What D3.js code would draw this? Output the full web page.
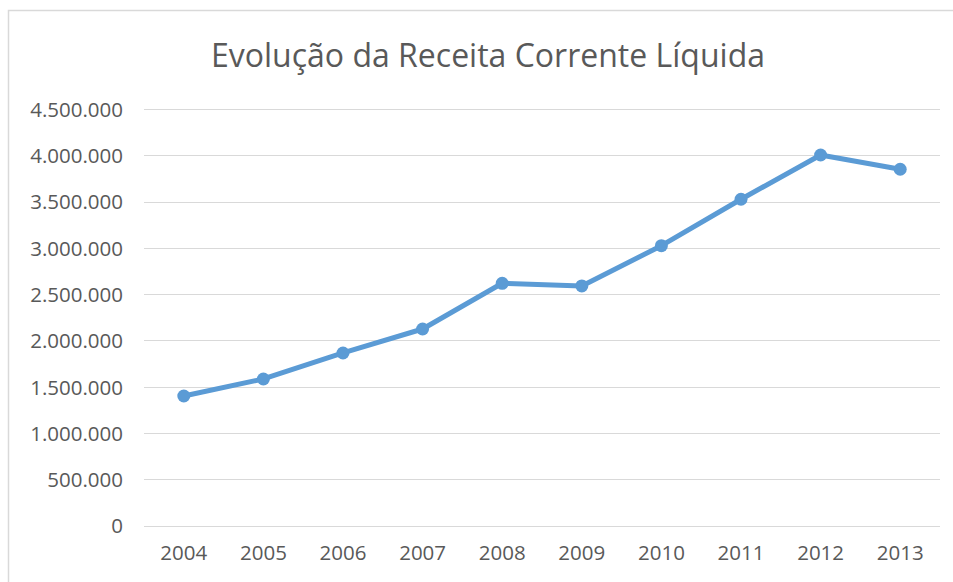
<!DOCTYPE html>
<html><head><meta charset="utf-8">
<script src="https://cdn.jsdelivr.net/npm/d3@7"></script>
<style>html,body{margin:0;padding:0;background:#fff;}svg{display:block;}</style>
</head><body>
<svg id="chart" width="953" height="582"></svg>
<script>
const title = "Evolução da Receita Corrente Líquida";
const years = ["2004","2005","2006","2007","2008","2009","2010","2011","2012","2013"];
const values = [1399000, 1583000, 1864000, 2123000, 2617000, 2588000, 3023000, 3525000, 4003000, 3849000];
const yTicks = [0, 500000, 1000000, 1500000, 2000000, 2500000, 3000000, 3500000, 4000000, 4500000];

const svg = d3.select("#chart");
const font = "'Open Sans', sans-serif";
const textColor = "#595959";
const gridColor = "#d9d9d9";
const lineColor = "#5b9bd5";

// chart border
svg.append("rect").attr("x", 8.5).attr("y", 10.5).attr("width", 1000).attr("height", 1000)
  .attr("fill", "none").attr("stroke", gridColor).attr("stroke-width", 1.5);

const x = d3.scaleBand().domain(years).range([144, 940]);
const y = d3.scaleLinear().domain([0, 4500000]).range([525.5, 109]);

const fmt = v => d3.format(",")(v).replace(/,/g, ".");

// gridlines
svg.append("g").selectAll("line").data(yTicks).join("line")
  .attr("x1", 144).attr("x2", 940)
  .attr("y1", d => Math.round(y(d)) + 0.5).attr("y2", d => Math.round(y(d)) + 0.5)
  .attr("stroke", gridColor).attr("stroke-width", 1);

// y axis labels
const yAxis = d3.axisLeft(y).tickValues(yTicks).tickFormat(fmt).tickSize(0).tickPadding(0);
const gy = svg.append("g").attr("transform", "translate(123,0)").call(yAxis);
gy.select(".domain").remove();
gy.selectAll("text").attr("font-family", font).attr("font-size", 20.5).attr("fill", textColor).attr("dy", "0.36em");

// x axis labels
const xAxis = d3.axisBottom(x).tickSize(0).tickPadding(0);
const gx = svg.append("g").attr("transform", "translate(0,545)").call(xAxis);
gx.select(".domain").remove();
gx.selectAll("text").attr("font-family", font).attr("font-size", 20.5).attr("fill", textColor).attr("dy", "0.71em");

// line
const data = years.map((yr, i) => ({yr, v: values[i]}));
const line = d3.line().x(d => x(d.yr) + x.bandwidth() / 2).y(d => y(d.v));
svg.append("path").datum(data).attr("d", line)
  .attr("fill", "none").attr("stroke", lineColor).attr("stroke-width", 5)
  .attr("stroke-linejoin", "round").attr("stroke-linecap", "round");
svg.append("g").selectAll("circle").data(data).join("circle")
  .attr("cx", d => x(d.yr) + x.bandwidth() / 2).attr("cy", d => y(d.v)).attr("r", 6.5)
  .attr("fill", lineColor);

// title
svg.append("text").attr("x", 488).attr("y", 67).attr("text-anchor", "middle")
  .attr("font-family", font).attr("font-size", 32.5).attr("fill", textColor)
  .attr("textLength", 554).attr("lengthAdjust", "spacingAndGlyphs")
  .text(title);
</script>
</body></html>
